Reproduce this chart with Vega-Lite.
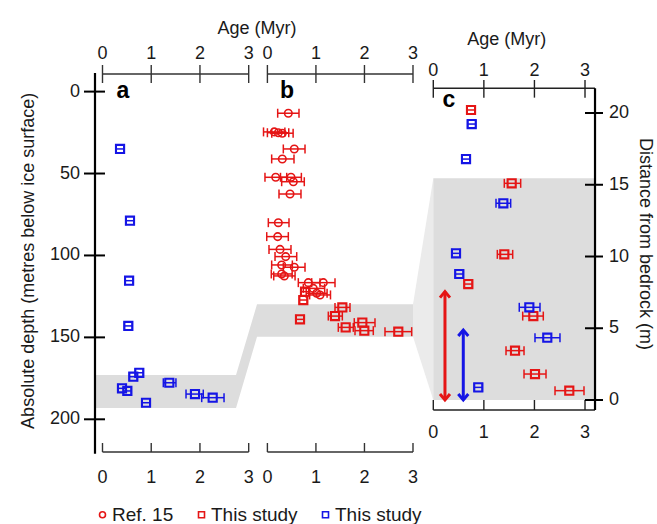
{
  "$schema": "https://vega.github.io/schema/vega-lite/v6.json",
  "width": 657,
  "height": 524,
  "autosize": "none",
  "padding": 0,
  "background": "white",
  "datasets": {
    "age_ticks": [{"v": 0}, {"v": 1}, {"v": 2}, {"v": 3}],
    "depth_ticks": [{"v": 0}, {"v": 50}, {"v": 100}, {"v": 150}, {"v": 200}],
    "dist_ticks": [{"v": 0}, {"v": 5}, {"v": 10}, {"v": 15}, {"v": 20}],
    "band_ab": [
      {"age": -0.154, "top": 172.96, "bottom": 193.1},
      {"age": 2.74, "top": 172.96, "bottom": 193.1},
      {"age": 3.171, "top": 129.81, "bottom": 149.59},
      {"age": 6.372, "top": 129.81, "bottom": 149.59}
    ],
    "link_bc": [
      {"age": -0.401, "top": 6.67, "bottom": 4.41},
      {"age": 0, "top": 15.45, "bottom": 0}
    ],
    "band_c": [
      {"age": 0, "top": 15.45, "bottom": 0},
      {"age": 3.198, "top": 15.45, "bottom": 0}
    ],
    "arrows": [
      {"series": "this_red", "age": 0.231, "from": 0, "to": 7.55},
      {"series": "this_blue", "age": 0.593, "from": 0, "to": 4.88}
    ],
    "pts_a": [
      {"series": "this_blue", "age": 0.36, "lo": 0.28, "hi": 0.44, "depth": 35.0},
      {"series": "this_blue", "age": 0.564, "lo": 0.484, "hi": 0.644, "depth": 78.8},
      {"series": "this_blue", "age": 0.546, "lo": 0.466, "hi": 0.626, "depth": 115.4},
      {"series": "this_blue", "age": 0.53, "lo": 0.45, "hi": 0.61, "depth": 143.0},
      {"series": "this_blue", "age": 0.755, "lo": 0.675, "hi": 0.835, "depth": 171.6},
      {"series": "this_blue", "age": 0.632, "lo": 0.552, "hi": 0.712, "depth": 174.0},
      {"series": "this_blue", "age": 1.371, "lo": 1.248, "hi": 1.507, "depth": 177.7},
      {"series": "this_blue", "age": 0.4, "lo": 0.32, "hi": 0.48, "depth": 181.1},
      {"series": "this_blue", "age": 0.51, "lo": 0.43, "hi": 0.59, "depth": 182.7},
      {"series": "this_blue", "age": 1.898, "lo": 1.714, "hi": 2.068, "depth": 184.6},
      {"series": "this_blue", "age": 2.261, "lo": 2.036, "hi": 2.494, "depth": 186.8},
      {"series": "this_blue", "age": 0.893, "lo": 0.813, "hi": 0.973, "depth": 189.9}
    ],
    "pts_b": [
      {"series": "ref15", "age": 0.431, "lo": 0.212, "hi": 0.651, "depth": 13.2},
      {"series": "ref15", "age": 0.142, "lo": -0.08, "hi": 0.36, "depth": 24.6},
      {"series": "ref15", "age": 0.225, "lo": 0.0, "hi": 0.44, "depth": 25.1},
      {"series": "ref15", "age": 0.307, "lo": 0.09, "hi": 0.53, "depth": 25.4},
      {"series": "ref15", "age": 0.554, "lo": 0.328, "hi": 0.775, "depth": 35.0},
      {"series": "ref15", "age": 0.307, "lo": 0.088, "hi": 0.548, "depth": 41.1},
      {"series": "ref15", "age": 0.171, "lo": -0.05, "hi": 0.398, "depth": 52.3},
      {"series": "ref15", "age": 0.486, "lo": 0.27, "hi": 0.7, "depth": 52.3},
      {"series": "ref15", "age": 0.534, "lo": 0.294, "hi": 0.76, "depth": 55.0},
      {"series": "ref15", "age": 0.466, "lo": 0.239, "hi": 0.692, "depth": 62.5},
      {"series": "ref15", "age": 0.225, "lo": 0.019, "hi": 0.445, "depth": 80.0},
      {"series": "ref15", "age": 0.212, "lo": -0.014, "hi": 0.431, "depth": 88.5},
      {"series": "ref15", "age": 0.26, "lo": 0.033, "hi": 0.486, "depth": 96.3},
      {"series": "ref15", "age": 0.377, "lo": 0.157, "hi": 0.604, "depth": 100.7},
      {"series": "ref15", "age": 0.294, "lo": 0.088, "hi": 0.514, "depth": 105.8},
      {"series": "ref15", "age": 0.554, "lo": 0.328, "hi": 0.775, "depth": 107.2},
      {"series": "ref15", "age": 0.294, "lo": 0.08, "hi": 0.51, "depth": 111.3},
      {"series": "ref15", "age": 0.349, "lo": 0.13, "hi": 0.57, "depth": 112.5},
      {"series": "ref15", "age": 0.843, "lo": 0.637, "hi": 1.084, "depth": 116.6},
      {"series": "ref15", "age": 1.152, "lo": 0.913, "hi": 1.393, "depth": 116.6},
      {"series": "ref15", "age": 0.946, "lo": 0.74, "hi": 1.18, "depth": 120.1},
      {"series": "ref15", "age": 1.015, "lo": 0.8, "hi": 1.23, "depth": 123.1},
      {"series": "ref15", "age": 1.084, "lo": 0.87, "hi": 1.3, "depth": 124.1},
      {"series": "this_red", "age": 0.775, "lo": 0.695, "hi": 0.855, "depth": 122.1},
      {"series": "this_red", "age": 0.74, "lo": 0.66, "hi": 0.82, "depth": 127.2},
      {"series": "this_red", "age": 1.544, "lo": 1.393, "hi": 1.702, "depth": 131.7},
      {"series": "this_red", "age": 1.393, "lo": 1.255, "hi": 1.544, "depth": 137.0},
      {"series": "this_red", "age": 0.672, "lo": 0.592, "hi": 0.752, "depth": 139.0},
      {"series": "this_red", "age": 1.956, "lo": 1.79, "hi": 2.217, "depth": 141.0},
      {"series": "this_red", "age": 1.613, "lo": 1.461, "hi": 1.77, "depth": 143.9},
      {"series": "this_red", "age": 1.997, "lo": 1.805, "hi": 2.182, "depth": 145.9},
      {"series": "this_red", "age": 2.697, "lo": 2.423, "hi": 2.973, "depth": 146.5}
    ],
    "pts_c": [
      {"series": "this_red", "age": 0.746, "lo": 0.666, "hi": 0.826, "dist": 20.21},
      {"series": "this_red", "age": 1.55, "lo": 1.404, "hi": 1.728, "dist": 15.1},
      {"series": "this_red", "age": 1.404, "lo": 1.266, "hi": 1.57, "dist": 10.15},
      {"series": "this_red", "age": 0.692, "lo": 0.612, "hi": 0.772, "dist": 8.08},
      {"series": "this_red", "age": 1.978, "lo": 1.768, "hi": 2.175, "dist": 5.85},
      {"series": "this_red", "age": 1.616, "lo": 1.438, "hi": 1.794, "dist": 3.44},
      {"series": "this_red", "age": 2.011, "lo": 1.794, "hi": 2.229, "dist": 1.81},
      {"series": "this_red", "age": 2.689, "lo": 2.407, "hi": 2.98, "dist": 0.65},
      {"series": "this_blue", "age": 0.759, "lo": 0.679, "hi": 0.839, "dist": 19.23},
      {"series": "this_blue", "age": 0.647, "lo": 0.567, "hi": 0.727, "dist": 16.79},
      {"series": "this_blue", "age": 1.385, "lo": 1.24, "hi": 1.53, "dist": 13.71},
      {"series": "this_blue", "age": 0.449, "lo": 0.369, "hi": 0.529, "dist": 10.22},
      {"series": "this_blue", "age": 0.514, "lo": 0.434, "hi": 0.594, "dist": 8.78},
      {"series": "this_blue", "age": 1.899, "lo": 1.7, "hi": 2.11, "dist": 6.46},
      {"series": "this_blue", "age": 2.254, "lo": 2.011, "hi": 2.505, "dist": 4.34},
      {"series": "this_blue", "age": 0.89, "lo": 0.81, "hi": 0.97, "dist": 0.88}
    ]
  },
  "layer": [
    {
      "layer": [
        {
          "data": {"name": "band_ab"},
          "mark": {"type": "area", "color": "#dddddd"},
          "encoding": {
            "x": {"field": "age", "type": "quantitative", "scale": {"domain": [-2.1034, 11.379], "nice": false, "zero": false}},
            "y": {"field": "top", "type": "quantitative", "scale": {"domain": [-55.905, 263.9], "reverse": true, "nice": false, "zero": false}},
            "y2": {"field": "bottom"}
          }
        },
        {
          "data": {"values": [{}]},
          "mark": {"type": "rule", "color": "#333333", "strokeWidth": 1.4},
          "encoding": {
            "x": {"datum": 0, "type": "quantitative", "scale": {"domain": [-2.1034, 11.379], "nice": false, "zero": false}},
            "x2": {"datum": 3},
            "y": {"datum": -10.74, "type": "quantitative", "scale": {"domain": [-55.905, 263.9], "reverse": true, "nice": false, "zero": false}}
          }
        },
        {
          "data": {"values": [{}]},
          "mark": {"type": "rule", "color": "#333333", "strokeWidth": 1.4},
          "encoding": {
            "x": {"datum": 0, "type": "quantitative", "scale": {"domain": [-2.1034, 11.379], "nice": false, "zero": false}},
            "x2": {"datum": 3},
            "y": {"datum": 219.96, "type": "quantitative", "scale": {"domain": [-55.905, 263.9], "reverse": true, "nice": false, "zero": false}}
          }
        },
        {
          "data": {"values": [{}]},
          "mark": {"type": "rule", "color": "#000000", "strokeWidth": 2.2},
          "encoding": {
            "x": {"datum": -0.154, "type": "quantitative", "scale": {"domain": [-2.1034, 11.379], "nice": false, "zero": false}},
            "y": {"datum": -11.35, "type": "quantitative", "scale": {"domain": [-55.905, 263.9], "reverse": true, "nice": false, "zero": false}},
            "y2": {"datum": 221}
          }
        },
        {
          "data": {"name": "age_ticks"},
          "mark": {"type": "rule", "color": "#333333", "strokeWidth": 1.4},
          "encoding": {
            "x": {"field": "v", "type": "quantitative", "scale": {"domain": [-2.1034, 11.379], "nice": false, "zero": false}},
            "y": {"datum": -16.23, "type": "quantitative", "scale": {"domain": [-55.905, 263.9], "reverse": true, "nice": false, "zero": false}},
            "y2": {"datum": -5.25}
          }
        },
        {
          "data": {"name": "age_ticks"},
          "mark": {"type": "rule", "color": "#333333", "strokeWidth": 1.4},
          "encoding": {
            "x": {"field": "v", "type": "quantitative", "scale": {"domain": [-2.1034, 11.379], "nice": false, "zero": false}},
            "y": {"datum": 214.47, "type": "quantitative", "scale": {"domain": [-55.905, 263.9], "reverse": true, "nice": false, "zero": false}},
            "y2": {"datum": 219.96}
          }
        },
        {
          "data": {"name": "age_ticks"},
          "mark": {"type": "text"},
          "encoding": {
            "x": {"field": "v", "type": "quantitative", "scale": {"domain": [-2.1034, 11.379], "nice": false, "zero": false}},
            "y": {"datum": -22.7, "type": "quantitative", "scale": {"domain": [-55.905, 263.9], "reverse": true, "nice": false, "zero": false}},
            "text": {"field": "v", "type": "nominal"}
          }
        },
        {
          "data": {"name": "age_ticks"},
          "mark": {"type": "text"},
          "encoding": {
            "x": {"field": "v", "type": "quantitative", "scale": {"domain": [-2.1034, 11.379], "nice": false, "zero": false}},
            "y": {"datum": 235.8, "type": "quantitative", "scale": {"domain": [-55.905, 263.9], "reverse": true, "nice": false, "zero": false}},
            "text": {"field": "v", "type": "nominal"}
          }
        },
        {
          "data": {"name": "depth_ticks"},
          "mark": {"type": "rule", "color": "#000000", "strokeWidth": 2},
          "encoding": {
            "x": {"datum": -0.38, "type": "quantitative", "scale": {"domain": [-2.1034, 11.379], "nice": false, "zero": false}},
            "x2": {"datum": 0.051},
            "y": {"field": "v", "type": "quantitative", "scale": {"domain": [-55.905, 263.9], "reverse": true, "nice": false, "zero": false}}
          }
        },
        {
          "data": {"name": "depth_ticks"},
          "mark": {"type": "text", "align": "right"},
          "encoding": {
            "x": {"datum": -0.462, "type": "quantitative", "scale": {"domain": [-2.1034, 11.379], "nice": false, "zero": false}},
            "y": {"field": "v", "type": "quantitative", "scale": {"domain": [-55.905, 263.9], "reverse": true, "nice": false, "zero": false}},
            "text": {"field": "v", "type": "nominal"}
          }
        },
        {
          "data": {"values": [{}]},
          "mark": {"type": "text", "text": "Age (Myr)"},
          "encoding": {
            "x": {"datum": 3.171, "type": "quantitative", "scale": {"domain": [-2.1034, 11.379], "nice": false, "zero": false}},
            "y": {"datum": -38.2, "type": "quantitative", "scale": {"domain": [-55.905, 263.9], "reverse": true, "nice": false, "zero": false}}
          }
        },
        {
          "data": {"values": [{}]},
          "mark": {"type": "text", "text": "Absolute depth (metres below ice surface)", "angle": 270},
          "encoding": {
            "x": {"datum": -1.508, "type": "quantitative", "scale": {"domain": [-2.1034, 11.379], "nice": false, "zero": false}},
            "y": {"datum": 103.27, "type": "quantitative", "scale": {"domain": [-55.905, 263.9], "reverse": true, "nice": false, "zero": false}}
          }
        },
        {
          "data": {"values": [{}]},
          "mark": {"type": "text", "text": "a", "fontWeight": "bold", "fontSize": 23, "baseline": "alphabetic", "fill": "#000000"},
          "encoding": {
            "x": {"datum": 0.421, "type": "quantitative", "scale": {"domain": [-2.1034, 11.379], "nice": false, "zero": false}},
            "y": {"datum": 3.91, "type": "quantitative", "scale": {"domain": [-55.905, 263.9], "reverse": true, "nice": false, "zero": false}}
          }
        },
        {
          "data": {"name": "pts_a"},
          "mark": {"type": "rule", "strokeWidth": 1.5},
          "encoding": {
            "x": {"field": "lo", "type": "quantitative", "scale": {"domain": [-2.1034, 11.379], "nice": false, "zero": false}},
            "x2": {"field": "hi"},
            "y": {"field": "depth", "type": "quantitative", "scale": {"domain": [-55.905, 263.9], "reverse": true, "nice": false, "zero": false}},
            "color": {"condition": {"test": "datum.series === 'this_blue'", "value": "#1515e5"}, "value": "#e51515"}
          }
        },
        {
          "data": {"name": "pts_a"},
          "mark": {"type": "tick", "orient": "vertical", "size": 9, "thickness": 1.5, "opacity": 1},
          "encoding": {
            "x": {"field": "lo", "type": "quantitative", "scale": {"domain": [-2.1034, 11.379], "nice": false, "zero": false}},
            "y": {"field": "depth", "type": "quantitative", "scale": {"domain": [-55.905, 263.9], "reverse": true, "nice": false, "zero": false}},
            "color": {"condition": {"test": "datum.series === 'this_blue'", "value": "#1515e5"}, "value": "#e51515"}
          }
        },
        {
          "data": {"name": "pts_a"},
          "mark": {"type": "tick", "orient": "vertical", "size": 9, "thickness": 1.5, "opacity": 1},
          "encoding": {
            "x": {"field": "hi", "type": "quantitative", "scale": {"domain": [-2.1034, 11.379], "nice": false, "zero": false}},
            "y": {"field": "depth", "type": "quantitative", "scale": {"domain": [-55.905, 263.9], "reverse": true, "nice": false, "zero": false}},
            "color": {"condition": {"test": "datum.series === 'this_blue'", "value": "#1515e5"}, "value": "#e51515"}
          }
        },
        {
          "data": {"name": "pts_a"},
          "mark": {"type": "point", "filled": false, "opacity": 1},
          "encoding": {
            "x": {"field": "age", "type": "quantitative", "scale": {"domain": [-2.1034, 11.379], "nice": false, "zero": false}},
            "y": {"field": "depth", "type": "quantitative", "scale": {"domain": [-55.905, 263.9], "reverse": true, "nice": false, "zero": false}},
            "color": {
              "field": "series", "type": "nominal",
              "scale": {"domain": ["ref15", "this_red", "this_blue"], "range": ["#e51515", "#e51515", "#1515e5"]},
              "legend": {"orient": "none", "legendX": 93, "legendY": 505, "direction": "horizontal", "title": null, "labelExpr": "datum.value === 'ref15' ? 'Ref. 15' : 'This study'", "symbolSize": 36, "symbolStrokeWidth": 1.6, "labelFont": "Liberation Sans", "labelFontSize": 19, "labelColor": "#1a1a1a", "labelOffset": 0, "columnPadding": 18, "padding": 0}
            },
            "shape": {
              "field": "series", "type": "nominal",
              "scale": {"domain": ["ref15", "this_red", "this_blue"], "range": ["circle", "square", "square"]},
              "legend": {"orient": "none", "legendX": 93, "legendY": 505, "direction": "horizontal", "title": null, "labelExpr": "datum.value === 'ref15' ? 'Ref. 15' : 'This study'", "symbolSize": 36, "symbolStrokeWidth": 1.6, "labelFont": "Liberation Sans", "labelFontSize": 19, "labelColor": "#1a1a1a", "labelOffset": 0, "columnPadding": 18, "padding": 0}
            },
            "size": {"condition": {"test": "datum.series === 'ref15'", "value": 56}, "value": 66},
            "strokeWidth": {"condition": {"test": "datum.series === 'ref15'", "value": 1.6}, "value": 2.1}
          }
        }
      ]
    },
    {
      "layer": [
        {
          "data": {"values": [{}]},
          "mark": {"type": "rule", "color": "#333333", "strokeWidth": 1.4},
          "encoding": {
            "x": {"datum": 0, "type": "quantitative", "scale": {"domain": [-5.51, 8.028], "nice": false, "zero": false}},
            "x2": {"datum": 3},
            "y": {"datum": -10.74, "type": "quantitative", "scale": {"domain": [-55.905, 263.9], "reverse": true, "nice": false, "zero": false}}
          }
        },
        {
          "data": {"values": [{}]},
          "mark": {"type": "rule", "color": "#333333", "strokeWidth": 1.4},
          "encoding": {
            "x": {"datum": 0, "type": "quantitative", "scale": {"domain": [-5.51, 8.028], "nice": false, "zero": false}},
            "x2": {"datum": 3},
            "y": {"datum": 219.96, "type": "quantitative", "scale": {"domain": [-55.905, 263.9], "reverse": true, "nice": false, "zero": false}}
          }
        },
        {
          "data": {"name": "age_ticks"},
          "mark": {"type": "rule", "color": "#333333", "strokeWidth": 1.4},
          "encoding": {
            "x": {"field": "v", "type": "quantitative", "scale": {"domain": [-5.51, 8.028], "nice": false, "zero": false}},
            "y": {"datum": -16.23, "type": "quantitative", "scale": {"domain": [-55.905, 263.9], "reverse": true, "nice": false, "zero": false}},
            "y2": {"datum": -5.25}
          }
        },
        {
          "data": {"name": "age_ticks"},
          "mark": {"type": "rule", "color": "#333333", "strokeWidth": 1.4},
          "encoding": {
            "x": {"field": "v", "type": "quantitative", "scale": {"domain": [-5.51, 8.028], "nice": false, "zero": false}},
            "y": {"datum": 214.47, "type": "quantitative", "scale": {"domain": [-55.905, 263.9], "reverse": true, "nice": false, "zero": false}},
            "y2": {"datum": 219.96}
          }
        },
        {
          "data": {"name": "age_ticks"},
          "mark": {"type": "text"},
          "encoding": {
            "x": {"field": "v", "type": "quantitative", "scale": {"domain": [-5.51, 8.028], "nice": false, "zero": false}},
            "y": {"datum": -22.7, "type": "quantitative", "scale": {"domain": [-55.905, 263.9], "reverse": true, "nice": false, "zero": false}},
            "text": {"field": "v", "type": "nominal"}
          }
        },
        {
          "data": {"name": "age_ticks"},
          "mark": {"type": "text"},
          "encoding": {
            "x": {"field": "v", "type": "quantitative", "scale": {"domain": [-5.51, 8.028], "nice": false, "zero": false}},
            "y": {"datum": 235.8, "type": "quantitative", "scale": {"domain": [-55.905, 263.9], "reverse": true, "nice": false, "zero": false}},
            "text": {"field": "v", "type": "nominal"}
          }
        },
        {
          "data": {"values": [{}]},
          "mark": {"type": "text", "text": "b", "fontWeight": "bold", "fontSize": 23, "baseline": "alphabetic", "fill": "#000000"},
          "encoding": {
            "x": {"datum": 0.404, "type": "quantitative", "scale": {"domain": [-5.51, 8.028], "nice": false, "zero": false}},
            "y": {"datum": 3.91, "type": "quantitative", "scale": {"domain": [-55.905, 263.9], "reverse": true, "nice": false, "zero": false}}
          }
        },
        {
          "data": {"name": "pts_b"},
          "mark": {"type": "rule", "strokeWidth": 1.5},
          "encoding": {
            "x": {"field": "lo", "type": "quantitative", "scale": {"domain": [-5.51, 8.028], "nice": false, "zero": false}},
            "x2": {"field": "hi"},
            "y": {"field": "depth", "type": "quantitative", "scale": {"domain": [-55.905, 263.9], "reverse": true, "nice": false, "zero": false}},
            "color": {"condition": {"test": "datum.series === 'this_blue'", "value": "#1515e5"}, "value": "#e51515"}
          }
        },
        {
          "data": {"name": "pts_b"},
          "mark": {"type": "tick", "orient": "vertical", "size": 9, "thickness": 1.5, "opacity": 1},
          "encoding": {
            "x": {"field": "lo", "type": "quantitative", "scale": {"domain": [-5.51, 8.028], "nice": false, "zero": false}},
            "y": {"field": "depth", "type": "quantitative", "scale": {"domain": [-55.905, 263.9], "reverse": true, "nice": false, "zero": false}},
            "color": {"condition": {"test": "datum.series === 'this_blue'", "value": "#1515e5"}, "value": "#e51515"}
          }
        },
        {
          "data": {"name": "pts_b"},
          "mark": {"type": "tick", "orient": "vertical", "size": 9, "thickness": 1.5, "opacity": 1},
          "encoding": {
            "x": {"field": "hi", "type": "quantitative", "scale": {"domain": [-5.51, 8.028], "nice": false, "zero": false}},
            "y": {"field": "depth", "type": "quantitative", "scale": {"domain": [-55.905, 263.9], "reverse": true, "nice": false, "zero": false}},
            "color": {"condition": {"test": "datum.series === 'this_blue'", "value": "#1515e5"}, "value": "#e51515"}
          }
        },
        {
          "data": {"name": "pts_b"},
          "mark": {"type": "point", "filled": false, "opacity": 1},
          "encoding": {
            "x": {"field": "age", "type": "quantitative", "scale": {"domain": [-5.51, 8.028], "nice": false, "zero": false}},
            "y": {"field": "depth", "type": "quantitative", "scale": {"domain": [-55.905, 263.9], "reverse": true, "nice": false, "zero": false}},
            "color": {"field": "series", "type": "nominal"},
            "shape": {"field": "series", "type": "nominal"},
            "size": {"condition": {"test": "datum.series === 'ref15'", "value": 56}, "value": 66},
            "strokeWidth": {"condition": {"test": "datum.series === 'ref15'", "value": 1.6}, "value": 2.1}
          }
        }
      ]
    },
    {
      "layer": [
        {
          "data": {"name": "link_bc"},
          "mark": {"type": "area", "color": "#ebebeb"},
          "encoding": {
            "x": {"field": "age", "type": "quantitative", "scale": {"domain": [-8.568, 4.4236], "nice": false, "zero": false}},
            "y": {"field": "top", "type": "quantitative", "scale": {"domain": [-8.641, 27.875], "nice": false, "zero": false}},
            "y2": {"field": "bottom"}
          }
        },
        {
          "data": {"name": "band_c"},
          "mark": {"type": "area", "color": "#dddddd"},
          "encoding": {
            "x": {"field": "age", "type": "quantitative", "scale": {"domain": [-8.568, 4.4236], "nice": false, "zero": false}},
            "y": {"field": "top", "type": "quantitative", "scale": {"domain": [-8.641, 27.875], "nice": false, "zero": false}},
            "y2": {"field": "bottom"}
          }
        },
        {
          "data": {"values": [{}]},
          "mark": {"type": "rule", "color": "#222222", "strokeWidth": 1.5},
          "encoding": {
            "x": {"datum": 0, "type": "quantitative", "scale": {"domain": [-8.568, 4.4236], "nice": false, "zero": false}},
            "x2": {"datum": 3.198},
            "y": {"datum": 21.72, "type": "quantitative", "scale": {"domain": [-8.641, 27.875], "nice": false, "zero": false}}
          }
        },
        {
          "data": {"values": [{}]},
          "mark": {"type": "rule", "color": "#222222", "strokeWidth": 1.5},
          "encoding": {
            "x": {"datum": 0, "type": "quantitative", "scale": {"domain": [-8.568, 4.4236], "nice": false, "zero": false}},
            "x2": {"datum": 3.198},
            "y": {"datum": -0.697, "type": "quantitative", "scale": {"domain": [-8.641, 27.875], "nice": false, "zero": false}}
          }
        },
        {
          "data": {"values": [{}]},
          "mark": {"type": "rule", "color": "#000000", "strokeWidth": 2.2},
          "encoding": {
            "x": {"datum": 3.198, "type": "quantitative", "scale": {"domain": [-8.568, 4.4236], "nice": false, "zero": false}},
            "y": {"datum": 21.72, "type": "quantitative", "scale": {"domain": [-8.641, 27.875], "nice": false, "zero": false}},
            "y2": {"datum": -0.697}
          }
        },
        {
          "data": {"name": "age_ticks"},
          "mark": {"type": "rule", "color": "#222222", "strokeWidth": 1.4},
          "encoding": {
            "x": {"field": "v", "type": "quantitative", "scale": {"domain": [-8.568, 4.4236], "nice": false, "zero": false}},
            "y": {"datum": 22.3, "type": "quantitative", "scale": {"domain": [-8.641, 27.875], "nice": false, "zero": false}},
            "y2": {"datum": 21.07}
          }
        },
        {
          "data": {"name": "age_ticks"},
          "mark": {"type": "rule", "color": "#222222", "strokeWidth": 1.4},
          "encoding": {
            "x": {"field": "v", "type": "quantitative", "scale": {"domain": [-8.568, 4.4236], "nice": false, "zero": false}},
            "y": {"datum": 0, "type": "quantitative", "scale": {"domain": [-8.641, 27.875], "nice": false, "zero": false}},
            "y2": {"datum": -0.697}
          }
        },
        {
          "data": {"name": "age_ticks"},
          "mark": {"type": "text"},
          "encoding": {
            "x": {"field": "v", "type": "quantitative", "scale": {"domain": [-8.568, 4.4236], "nice": false, "zero": false}},
            "y": {"datum": 22.92, "type": "quantitative", "scale": {"domain": [-8.641, 27.875], "nice": false, "zero": false}},
            "text": {"field": "v", "type": "nominal"}
          }
        },
        {
          "data": {"name": "age_ticks"},
          "mark": {"type": "text"},
          "encoding": {
            "x": {"field": "v", "type": "quantitative", "scale": {"domain": [-8.568, 4.4236], "nice": false, "zero": false}},
            "y": {"datum": -2.32, "type": "quantitative", "scale": {"domain": [-8.641, 27.875], "nice": false, "zero": false}},
            "text": {"field": "v", "type": "nominal"}
          }
        },
        {
          "data": {"name": "dist_ticks"},
          "mark": {"type": "rule", "color": "#000000", "strokeWidth": 2},
          "encoding": {
            "x": {"datum": 3.0, "type": "quantitative", "scale": {"domain": [-8.568, 4.4236], "nice": false, "zero": false}},
            "x2": {"datum": 3.356},
            "y": {"field": "v", "type": "quantitative", "scale": {"domain": [-8.641, 27.875], "nice": false, "zero": false}}
          }
        },
        {
          "data": {"name": "dist_ticks"},
          "mark": {"type": "text", "align": "left"},
          "encoding": {
            "x": {"datum": 3.474, "type": "quantitative", "scale": {"domain": [-8.568, 4.4236], "nice": false, "zero": false}},
            "y": {"field": "v", "type": "quantitative", "scale": {"domain": [-8.641, 27.875], "nice": false, "zero": false}},
            "text": {"field": "v", "type": "nominal"}
          }
        },
        {
          "data": {"values": [{}]},
          "mark": {"type": "text", "text": "Age (Myr)"},
          "encoding": {
            "x": {"datum": 1.451, "type": "quantitative", "scale": {"domain": [-8.568, 4.4236], "nice": false, "zero": false}},
            "y": {"datum": 25.06, "type": "quantitative", "scale": {"domain": [-8.641, 27.875], "nice": false, "zero": false}}
          }
        },
        {
          "data": {"values": [{}]},
          "mark": {"type": "text", "text": "Distance from bedrock (m)", "angle": 90},
          "encoding": {
            "x": {"datum": 4.196, "type": "quantitative", "scale": {"domain": [-8.568, 4.4236], "nice": false, "zero": false}},
            "y": {"datum": 10.87, "type": "quantitative", "scale": {"domain": [-8.641, 27.875], "nice": false, "zero": false}}
          }
        },
        {
          "data": {"values": [{}]},
          "mark": {"type": "text", "text": "c", "fontWeight": "bold", "fontSize": 23, "baseline": "alphabetic", "fill": "#000000"},
          "encoding": {
            "x": {"datum": 0.31, "type": "quantitative", "scale": {"domain": [-8.568, 4.4236], "nice": false, "zero": false}},
            "y": {"datum": 20.44, "type": "quantitative", "scale": {"domain": [-8.641, 27.875], "nice": false, "zero": false}}
          }
        },
        {
          "data": {"name": "arrows"},
          "mark": {"type": "rule", "strokeWidth": 3},
          "encoding": {
            "x": {"field": "age", "type": "quantitative", "scale": {"domain": [-8.568, 4.4236], "nice": false, "zero": false}},
            "y": {"field": "from", "type": "quantitative", "scale": {"domain": [-8.641, 27.875], "nice": false, "zero": false}},
            "y2": {"field": "to"},
            "color": {"condition": {"test": "datum.series === 'this_blue'", "value": "#1515e5"}, "value": "#e51515"}
          }
        },
        {
          "data": {"name": "arrows"},
          "mark": {"type": "point", "shape": "M-1,1.2L0,0L1,1.2", "filled": false, "size": 100, "strokeWidth": 3, "opacity": 1},
          "encoding": {
            "x": {"field": "age", "type": "quantitative", "scale": {"domain": [-8.568, 4.4236], "nice": false, "zero": false}},
            "y": {"field": "to", "type": "quantitative", "scale": {"domain": [-8.641, 27.875], "nice": false, "zero": false}},
            "color": {"condition": {"test": "datum.series === 'this_blue'", "value": "#1515e5"}, "value": "#e51515"}
          }
        },
        {
          "data": {"name": "arrows"},
          "mark": {"type": "point", "shape": "M-1,-1.2L0,0L1,-1.2", "filled": false, "size": 100, "strokeWidth": 3, "opacity": 1},
          "encoding": {
            "x": {"field": "age", "type": "quantitative", "scale": {"domain": [-8.568, 4.4236], "nice": false, "zero": false}},
            "y": {"field": "from", "type": "quantitative", "scale": {"domain": [-8.641, 27.875], "nice": false, "zero": false}},
            "color": {"condition": {"test": "datum.series === 'this_blue'", "value": "#1515e5"}, "value": "#e51515"}
          }
        },
        {
          "data": {"name": "pts_c"},
          "mark": {"type": "rule", "strokeWidth": 1.5},
          "encoding": {
            "x": {"field": "lo", "type": "quantitative", "scale": {"domain": [-8.568, 4.4236], "nice": false, "zero": false}},
            "x2": {"field": "hi"},
            "y": {"field": "dist", "type": "quantitative", "scale": {"domain": [-8.641, 27.875], "nice": false, "zero": false}},
            "color": {"condition": {"test": "datum.series === 'this_blue'", "value": "#1515e5"}, "value": "#e51515"}
          }
        },
        {
          "data": {"name": "pts_c"},
          "mark": {"type": "tick", "orient": "vertical", "size": 9, "thickness": 1.5, "opacity": 1},
          "encoding": {
            "x": {"field": "lo", "type": "quantitative", "scale": {"domain": [-8.568, 4.4236], "nice": false, "zero": false}},
            "y": {"field": "dist", "type": "quantitative", "scale": {"domain": [-8.641, 27.875], "nice": false, "zero": false}},
            "color": {"condition": {"test": "datum.series === 'this_blue'", "value": "#1515e5"}, "value": "#e51515"}
          }
        },
        {
          "data": {"name": "pts_c"},
          "mark": {"type": "tick", "orient": "vertical", "size": 9, "thickness": 1.5, "opacity": 1},
          "encoding": {
            "x": {"field": "hi", "type": "quantitative", "scale": {"domain": [-8.568, 4.4236], "nice": false, "zero": false}},
            "y": {"field": "dist", "type": "quantitative", "scale": {"domain": [-8.641, 27.875], "nice": false, "zero": false}},
            "color": {"condition": {"test": "datum.series === 'this_blue'", "value": "#1515e5"}, "value": "#e51515"}
          }
        },
        {
          "data": {"name": "pts_c"},
          "mark": {"type": "point", "filled": false, "opacity": 1},
          "encoding": {
            "x": {"field": "age", "type": "quantitative", "scale": {"domain": [-8.568, 4.4236], "nice": false, "zero": false}},
            "y": {"field": "dist", "type": "quantitative", "scale": {"domain": [-8.641, 27.875], "nice": false, "zero": false}},
            "color": {"field": "series", "type": "nominal"},
            "shape": {"field": "series", "type": "nominal"},
            "size": {"condition": {"test": "datum.series === 'ref15'", "value": 56}, "value": 66},
            "strokeWidth": {"condition": {"test": "datum.series === 'ref15'", "value": 1.6}, "value": 2.1}
          }
        }
      ]
    }
  ],
  "resolve": {"scale": {"x": "independent", "y": "independent"}},
  "config": {
    "view": {"stroke": null},
    "axis": {"disable": true},
    "text": {"font": "Liberation Sans", "fontSize": 18, "fill": "#1a1a1a"}
  }
}
